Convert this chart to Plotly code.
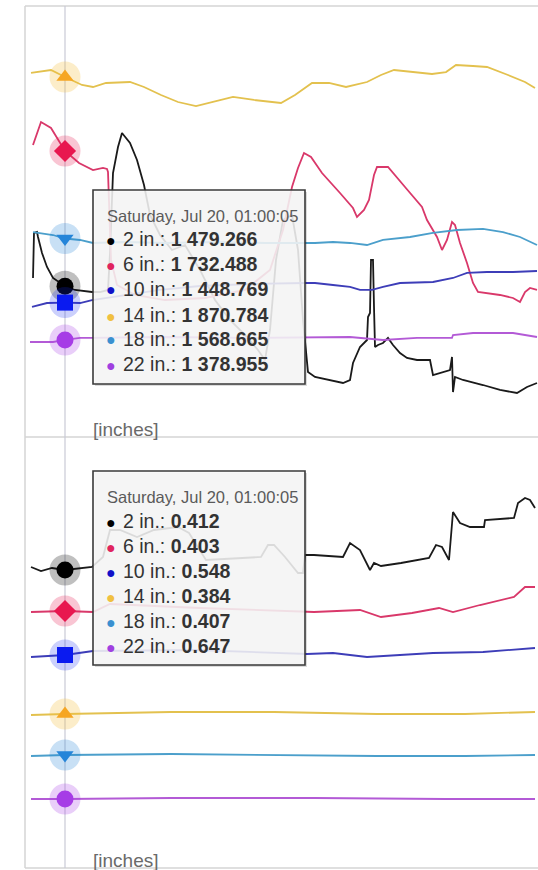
import plotly.graph_objects as go
import pandas as pd

W, H = 538, 870
BASE = pd.Timestamp("2019-07-20 01:00:05")
TIP_TITLE = "Saturday, Jul 20, 01:00:05"
FONT = "Liberation Sans, Arial, Helvetica, sans-serif"

names = ["2 in.", "6 in.", "10 in.", "14 in.", "18 in.", "22 in."]

# ---------------- top panel (minutes from 01:00:05, value) ----------------
top_2in_min = [-32, -31, -28, -27, -23, -18, -12, -5, 0, 10, 27, 35, 43, 45, 48, 53, 57, 65, 72, 79,
               85, 95, 107, 120, 135, 150, 165, 180, 193, 200, 205, 211, 218, 227, 233, 238, 243, 250, 265, 278,
               285, 288, 295, 302, 303, 305, 306, 308, 309, 310, 313, 318, 323, 328, 335, 342, 352, 365, 368, 375,
               385, 387, 388, 390, 398, 418, 435, 452, 462, 472]
top_2in_val = [1494.8, 1579.0, 1580.8, 1571.5, 1541.6, 1515.4, 1494.8, 1485.4, 1479.266, 1472.4,
               1468.6, 1468.6, 1472.4, 1541.6, 1691.2, 1739.8, 1766.0, 1747.3, 1715.5, 1668.8,
               1612.6, 1575.2, 1547.2, 1556.5, 1509.8, 1453.6, 1416.2, 1388.2, 1360.1, 1341.4,
               1397.5, 1528.5, 1603.3, 1612.6, 1547.2, 1416.2, 1319.0, 1309.6, 1304.0, 1298.4,
               1304.0, 1335.8, 1365.7, 1378.8, 1421.8, 1429.3, 1528.5, 1528.5, 1440.6, 1365.7,
               1369.5, 1373.2, 1382.6, 1369.5, 1354.5, 1345.2, 1341.4, 1341.4, 1313.3, 1317.1,
               1322.7, 1347.0, 1281.5, 1309.6, 1304.0, 1294.6, 1285.3, 1279.7, 1290.9, 1298.4]

top_6in_min = [-32, -24, -14, 0, 14, 28, 38, 42, 43, 44, 46, 52, 70, 100, 140, 180, 205, 218, 227, 233,
               239, 246, 257, 275, 288, 292, 299, 304, 309, 312, 323, 340, 357, 362, 372, 377, 382, 387, 390, 395,
               402, 408, 413, 435, 448, 455, 460, 465, 472]
top_6in_val = [1743.6, 1786.6, 1775.4, 1732.488, 1709.9, 1696.8, 1700.6, 1698.7, 1693.1, 1640.7,
               1528.5, 1481.7, 1463.0, 1453.6, 1457.4, 1472.4, 1509.8, 1584.6, 1665.0, 1700.6,
               1728.6, 1721.1, 1691.2, 1653.8, 1625.7, 1608.9, 1622.0, 1640.7, 1687.5, 1702.4,
               1702.4, 1665.0, 1627.6, 1603.3, 1571.5, 1547.2, 1565.9, 1599.6, 1593.9, 1560.3,
               1522.9, 1485.4, 1468.6, 1463.0, 1457.4, 1449.9, 1468.6, 1476.1, 1472.4]

top_10in_min = [-33, -18, 0, 15, 27, 55, 95, 135, 185, 240, 250, 268, 285, 295, 307, 318, 335, 368, 388, 402,
                422, 448, 472]
top_10in_val = [1440.6, 1448.0, 1448.769, 1448.0, 1453.6, 1461.1, 1472.4, 1479.8, 1483.6, 1485.4,
                1485.4, 1481.7, 1478.0, 1472.4, 1472.4, 1478.0, 1485.4, 1487.3, 1494.8, 1504.2,
                1506.0, 1506.0, 1507.9]

top_14in_min = [-34, -14, 0, 17, 28, 41, 65, 79, 96, 113, 131, 148, 168, 189, 206, 216, 230, 247, 264, 281,
                302, 316, 329, 347, 367, 381, 391, 408, 422, 443, 460, 470]
top_14in_val = [1878.3, 1883.9, 1870.784, 1855.8, 1852.1, 1859.6, 1861.4, 1852.1, 1837.1, 1824.0,
                1816.5, 1824.0, 1833.4, 1827.8, 1824.0, 1822.2, 1837.1, 1859.6, 1859.6, 1852.1,
                1861.4, 1874.5, 1883.9, 1880.1, 1876.4, 1880.1, 1893.2, 1891.4, 1889.5, 1874.5,
                1861.4, 1850.2]

top_18in_min = [-32, -12, 0, 15, 28, 60, 100, 150, 200, 240, 250, 268, 285, 302, 318, 345, 368, 392, 418, 438,
                455, 472]
top_18in_val = [1580.8, 1575.2, 1568.665, 1565.9, 1560.3, 1562.1, 1560.3, 1562.1, 1560.3, 1560.3,
                1560.3, 1562.1, 1560.3, 1556.5, 1565.9, 1571.5, 1579.0, 1584.6, 1586.5, 1580.8,
                1571.5, 1556.5]

top_22in_min = [-35, -12, 0, 15, 27, 100, 180, 250, 285, 318, 352, 387, 388, 408, 448, 472]
top_22in_val = [1375.1, 1375.1, 1378.955, 1382.6, 1382.6, 1384.4, 1382.6, 1384.4, 1384.4, 1378.8,
                1382.6, 1382.6, 1388.2, 1391.9, 1391.9, 1384.4]

# ---------------- bottom panel ----------------
bot_2in_min = [-34, -24, -13, 0, 27, 38, 45, 55, 72, 89, 113, 124, 141, 175, 196, 203, 209, 220, 233, 238,
               240, 249, 264, 278, 285, 295, 305, 309, 316, 336, 364, 371, 377, 384, 388, 395, 405, 419, 420, 439,
               449, 453, 460, 465, 470]
bot_2in_val = [0.415, 0.411, 0.414, 0.412, 0.415, 0.425, 0.452, 0.452, 0.445, 0.452,
               0.455, 0.449, 0.422, 0.424, 0.425, 0.437, 0.437, 0.425, 0.409, 0.409,
               0.427, 0.427, 0.426, 0.425, 0.439, 0.432, 0.412, 0.419, 0.416, 0.419,
               0.424, 0.437, 0.435, 0.422, 0.470, 0.459, 0.455, 0.455, 0.462, 0.463,
               0.464, 0.479, 0.484, 0.482, 0.474]

bot_6in_min = [-34, 0, 28, 45, 135, 235, 249, 295, 316, 347, 374, 388, 415, 449, 460, 470]
bot_6in_val = [0.402, 0.403, 0.402, 0.410, 0.406, 0.402, 0.402, 0.404, 0.397, 0.401,
               0.406, 0.402, 0.409, 0.417, 0.427, 0.427]

bot_10in_min = [-34, 0, 28, 130, 242, 268, 302, 335, 368, 418, 470]
bot_10in_val = [0.546, 0.548, 0.552, 0.553, 0.549, 0.550, 0.546, 0.548, 0.550, 0.551, 0.555]

bot_14in_min = [-34, 0, 106, 209, 312, 400, 470]
bot_14in_val = [0.383, 0.384, 0.386, 0.386, 0.384, 0.384, 0.386]

bot_18in_min = [-34, 0, 106, 209, 312, 400, 470]
bot_18in_val = [0.406, 0.407, 0.408, 0.407, 0.406, 0.406, 0.407]

bot_22in_min = [-34, 0, 106, 250, 380, 470]
bot_22in_val = [0.647, 0.647, 0.648, 0.648, 0.647, 0.647]

tip_top = [1479.266, 1732.488, 1448.769, 1870.784, 1568.665, 1378.955]
tip_bottom = [0.412, 0.403, 0.548, 0.384, 0.407, 0.647]

top_min = [top_2in_min, top_6in_min, top_10in_min, top_14in_min, top_18in_min, top_22in_min]
top_val = [top_2in_val, top_6in_val, top_10in_val, top_14in_val, top_18in_val, top_22in_val]
bot_min = [bot_2in_min, bot_6in_min, bot_10in_min, bot_14in_min, bot_18in_min, bot_22in_min]
bot_val = [bot_2in_val, bot_6in_val, bot_10in_val, bot_14in_val, bot_18in_val, bot_22in_val]

# ---------------- styles ----------------
line_colors = ["#1a1a1a", "#d9386a", "#3d3db8", "#e3c14e", "#4b9fcb", "#b35ad6"]
marker_colors = ["#000000", "#e8174f", "#0a1af0", "#f6a623", "#2585d9", "#a63ce6"]
bullet_colors = ["#000000", "#e0245e", "#1010c8", "#f0c040", "#3a90d0", "#a040e0"]
halo_colors = ["rgba(0,0,0,0.25)", "rgba(232,23,79,0.25)", "rgba(20,40,240,0.22)",
               "rgba(246,190,60,0.28)", "rgba(37,133,217,0.25)", "rgba(166,60,230,0.25)"]
symbols = ["circle", "diamond", "square", "triangle-up", "triangle-down", "circle"]
msizes = [17, 17, 16, 15, 15, 17]
bottom_axes = ["y2", "y3", "y4", "y5", "y6", "y7"]
bottom_ranges = [[0.114, 0.545], [0.146, 0.577], [0.335, 0.766],
                 [0.230, 0.661], [0.294, 0.725], [0.578, 1.009]]


def tt(mins):
    return [(BASE + pd.Timedelta(minutes=m)).strftime("%Y-%m-%d %H:%M:%S") for m in mins]


def px(x):
    return x / W


def py(y):
    return 1 - y / H


fig = go.Figure()

# lines
for i in range(6):
    fig.add_trace(go.Scatter(x=tt(top_min[i]), y=top_val[i], mode="lines",
                             line=dict(color=line_colors[i], width=1.8),
                             xaxis="x", yaxis="y", hoverinfo="skip", showlegend=False))
for i in range(6):
    fig.add_trace(go.Scatter(x=tt(bot_min[i]), y=bot_val[i], mode="lines",
                             line=dict(color=line_colors[i], width=1.8),
                             xaxis="x2", yaxis=bottom_axes[i], hoverinfo="skip", showlegend=False))

# hover markers with halos
cross = tt([0])
for i in range(6):
    for xa, ya, v in (("x", "y", tip_top[i]), ("x2", bottom_axes[i], tip_bottom[i])):
        fig.add_trace(go.Scatter(x=cross, y=[v], mode="markers", xaxis=xa, yaxis=ya,
                                 marker=dict(size=31, color=halo_colors[i], line=dict(width=0)),
                                 hoverinfo="skip", showlegend=False))
        fig.add_trace(go.Scatter(x=cross, y=[v], mode="markers", xaxis=xa, yaxis=ya,
                                 marker=dict(size=msizes[i], color=marker_colors[i], symbol=symbols[i],
                                             line=dict(width=0)),
                                 hoverinfo="skip", showlegend=False))

xr = tt([-40, 473])
xdom = [25 / W, 1]
ax_off = dict(visible=False, showgrid=False, zeroline=False, fixedrange=True)
layout = dict(
    width=W, height=H, margin=dict(l=0, r=0, t=0, b=0),
    paper_bgcolor="white", plot_bgcolor="rgba(0,0,0,0)",
    hovermode=False, showlegend=False,
    xaxis=dict(domain=xdom, range=xr, type="date", anchor="y", **ax_off),
    xaxis2=dict(domain=xdom, range=xr, type="date", anchor="y2", **ax_off),
    yaxis=dict(domain=[py(437), py(6)], range=[1197.35, 2003.6], anchor="x", **ax_off),
    yaxis2=dict(domain=[py(868), py(437)], range=bottom_ranges[0], anchor="x2", **ax_off),
)
for k in range(1, 6):
    layout[f"yaxis{k + 2}"] = dict(overlaying="y2", anchor="x2", range=bottom_ranges[k], **ax_off)
fig.update_layout(**layout)

shapes = []
frame = dict(type="line", xref="paper", yref="paper", layer="below",
             line=dict(color="#d4d4d4", width=1.5))
shapes.append(dict(frame, x0=px(25), x1=px(25), y0=py(6), y1=py(868)))
shapes.append(dict(frame, x0=px(25), x1=px(538), y0=py(6), y1=py(6)))
shapes.append(dict(frame, x0=px(25), x1=px(538), y0=py(437), y1=py(437)))
shapes.append(dict(frame, x0=px(25), x1=px(538), y0=py(868), y1=py(868)))
# crosshair
shapes.append(dict(type="line", xref="x", yref="paper", layer="below",
                   x0=cross[0], x1=cross[0], y0=py(868), y1=py(6),
                   line=dict(color="#c9cad6", width=1.2)))

annotations = []


def tooltip(top, vals, fmt, header_y, row_ys):
    left, right, bottom = 93, 305, top + 194
    shapes.append(dict(type="rect", xref="paper", yref="paper", layer="above",
                       x0=px(left + 2), x1=px(right + 2), y0=py(bottom + 2), y1=py(top + 2),
                       fillcolor="rgba(0,0,0,0.14)", line=dict(width=0)))
    shapes.append(dict(type="rect", xref="paper", yref="paper", layer="above",
                       x0=px(left), x1=px(right), y0=py(bottom), y1=py(top),
                       fillcolor="rgba(248,248,248,0.87)", line=dict(color="#3a3a3a", width=1.6)))
    annotations.append(dict(xref="paper", yref="paper", x=px(105), y=py(header_y),
                            xanchor="left", yanchor="middle", showarrow=False, text=TIP_TITLE,
                            font=dict(family=FONT, size=16.5, color="#5a5a5a")))
    for i in range(6):
        annotations.append(dict(xref="paper", yref="paper", x=px(111), y=py(row_ys[i] + 1),
                                xanchor="center", yanchor="middle", showarrow=False, text="●",
                                font=dict(family=FONT, size=16, color=bullet_colors[i])))
        annotations.append(dict(xref="paper", yref="paper", x=px(121), y=py(row_ys[i]),
                                xanchor="left", yanchor="middle", showarrow=False,
                                text=f"{names[i]}: <b>{fmt(vals[i])}</b>",
                                font=dict(family=FONT, size=19.5, color="#333333")))


def fmt_big(v):
    return f"{v:,.3f}".replace(",", " ")


def fmt_small(v):
    return f"{v:.3f}"


tooltip(190, tip_top, fmt_big, 216, [239, 264, 289, 315, 339, 364])
tooltip(471, tip_bottom, fmt_small, 497, [521, 546, 571, 596, 621, 646])

for y in (430, 860):
    annotations.append(dict(xref="paper", yref="paper", x=px(91), y=py(y),
                            xanchor="left", yanchor="middle", showarrow=False, text="[inches]",
                            font=dict(family=FONT, size=19, color="#6a6a6a")))

fig.update_layout(shapes=shapes, annotations=annotations)
fig.write_html("out.html", config={"displayModeBar": False},
               post_script="document.body.style.margin='0';document.body.style.overflow='hidden';")
